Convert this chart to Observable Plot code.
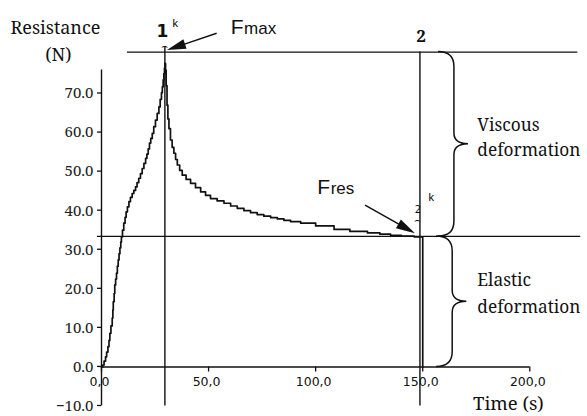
<!DOCTYPE html>
<html>
<head>
<meta charset="utf-8">
<script src="https://cdn.jsdelivr.net/npm/d3@7"></script>
<script src="https://cdn.jsdelivr.net/npm/@observablehq/plot@0.6"></script>
<style>
  html, body { margin: 0; padding: 0; background: white; }
</style>
</head>
<body>
<div id="chart"></div>
<script>
// ---- data ----
const time = [
  0, 0.6, 1.2, 1.9, 2.4, 3.0, 3.5, 3.9, 4.4, 5.0, 5.3, 5.5, 5.9, 6.2, 6.6, 7.0, 7.4, 7.8, 8.2, 8.6,
  9.0, 9.3, 9.8, 10.4, 11.0, 11.5, 12.1, 12.8, 13.5, 14.3, 15.1, 15.9, 16.6, 17.4, 18.2, 19.0, 19.8,
  20.6, 21.2, 21.8, 22.4, 23.0, 23.7, 24.4, 25.2, 26.0, 26.8, 27.4, 28.0, 28.4, 28.8, 29.1, 29.4, 29.6,
  29.9, 30.2, 30.6, 31.0, 31.5, 32.2, 33.0, 33.8, 34.6, 35.4, 36.5, 37.7, 39.5, 41.6, 43.9, 46.3, 48.6,
  50.9, 54.0, 57.2, 60.3, 63.4, 66.5, 69.6, 72.7, 75.8, 79.0, 82.1, 85.2, 88.3, 93.0, 100.0, 108.6,
  116.0, 124.2, 130.0, 135.0, 140.0, 146.0, 150.0, 150.0
];
const force = [
  0, 0.5, 1.5, 2.6, 3.8, 5.2, 6.8, 8.6, 10.5, 12.5, 14.6, 16.7, 18.8, 21.0, 22.5, 24.0, 25.8, 27.4, 29.0, 30.5,
  32.0, 33.3, 35.0, 36.8, 38.3, 39.7, 41.0, 42.3, 43.4, 44.4, 45.2, 46.1, 47.2, 48.3, 49.5, 50.8, 52.1,
  53.4, 54.5, 55.8, 57.3, 58.5, 59.8, 61.5, 63.2, 64.9, 66.6, 68.5, 70.2, 71.7, 73.5, 75.1, 76.5, 77.7,
  76.0, 72.0, 67.0, 63.5, 61.0, 58.1, 56.2, 54.7, 53.1, 51.7, 50.3, 49.1, 48.0, 47.0, 45.9, 44.8, 43.9,
  43.1, 42.5, 41.9, 41.2, 40.6, 40.0, 39.5, 39.0, 38.6, 38.2, 37.9, 37.5, 37.2, 36.8, 36.1, 35.2,
  34.7, 34.3, 34.0, 33.7, 33.5, 33.3, 33.3, 0
];
const xTicks = [0, 50, 100, 150, 200];
const xTickLabels = ["0,0", "50,0", "100,0", "150,0", "200,0"];
const yTicks = [-10, 0, 10, 20, 30, 40, 50, 60, 70];
const yTickLabels = ["\u221210.0", "0.0", "10.0", "20.0", "30.0", "40.0", "50.0", "60.0", "70.0"];

const Fmax = 80.6;   // upper horizontal line
const Fres = 33.4;   // lower horizontal line
const t1 = 29.6;     // vertical line 1
const t2 = 148.7;    // vertical line 2

const curveData = time.map((t, i) => ({t, f: force[i]}));

const serif = "'Noto Serif', 'Liberation Serif', serif";
const sans = "'Liberation Sans', Arial, sans-serif";
const dsans = "'DejaVu Sans', sans-serif";
const ink = "#111";

const chart = Plot.plot({
  width: 587,
  height: 416,
  marginLeft: 101,
  marginRight: 57.7,
  marginTop: 93,
  marginBottom: 10.5,
  x: {domain: [0, 200], axis: null},
  y: {domain: [-10, 70], axis: null},
  style: {background: "white", overflow: "visible", color: ink},
  marks: [
    // axis lines
    Plot.ruleX([0], {y1: -10, y2: 76, stroke: ink, strokeWidth: 1.4}),
    Plot.ruleY([0], {x1: 0, x2: 200, stroke: ink, strokeWidth: 1.4}),
    Plot.ruleX(xTicks, {x: d => d, y1: 0, y2: -1.3, stroke: ink, strokeWidth: 1.3}),
    Plot.text(xTicks, {
      x: d => d, y: -3.9, text: (d, i) => xTickLabels[i], dx: -2,
      fontFamily: dsans, fontSize: 12.5, lineAnchor: "middle", fill: ink
    }),
    // reference lines
    Plot.ruleY([Fmax], {x1: 12.1, x2: 222.4, stroke: ink, strokeWidth: 1.3}),
    Plot.ruleY([Fres], {x1: -1.9, x2: 223.8, stroke: ink, strokeWidth: 1.3}),
    Plot.ruleX([t1], {y1: -10, y2: 82, stroke: ink, strokeWidth: 1.4}),
    Plot.ruleX([t2], {y1: -10, y2: Fmax, stroke: ink, strokeWidth: 1.4}),
    // measured curve
    Plot.line(curveData, {x: "t", y: "f", curve: "step-after", stroke: ink, strokeWidth: 1.7}),
    // y tick labels
    Plot.text(yTicks, {
      x: 0, y: d => d, text: (d, i) => yTickLabels[i], dx: -8, textAnchor: "end",
      fontFamily: serif, fontSize: 15, lineAnchor: "middle", fill: "#222"
    }),
    // axis titles
    Plot.text(["Resistance"], {x: -21.5, y: 85.35, text: d => d, fontFamily: serif, fontSize: 18, lineAnchor: "bottom", fill: ink}),
    Plot.text(["(N)"], {x: -20.1, y: 78.4, text: d => d, fontFamily: serif, fontSize: 18, lineAnchor: "bottom", fill: ink}),
    Plot.text(["Time (s)"], {x: 190, y: -11, text: d => d, fontFamily: serif, fontSize: 18.5, lineAnchor: "bottom", fill: ink}),
    // brace labels
    Plot.text(["Viscous", "deformation"], {x: 175.5, y: [60.5, 53.9], text: d => d, textAnchor: "start", fontFamily: serif, fontSize: 17.3, lineAnchor: "bottom", fill: ink}),
    Plot.text(["Elastic", "deformation"], {x: 175.5, y: [20.6, 13.9], text: d => d, textAnchor: "start", fontFamily: serif, fontSize: 17.3, lineAnchor: "bottom", fill: ink}),
    // point labels
    Plot.text(["1"], {x: 28.5, y: 84.4, text: d => d, fontFamily: dsans, fontWeight: "bold", fontSize: 17, lineAnchor: "bottom", fill: ink}),
    Plot.text(["k"], {x: 33.2, y: 87, text: d => d, textAnchor: "start", fontFamily: sans, fontSize: 11, lineAnchor: "bottom", fill: "black"}),
    Plot.text(["\u2322"], {x: 29.4, y: 82, text: d => d, fontFamily: dsans, fontSize: 11, lineAnchor: "middle", fill: ink}),
    Plot.text(["2"], {x: 149.2, y: 83.2, text: d => d, fontFamily: serif, fontWeight: "bold", fontSize: 17, lineAnchor: "bottom", fill: ink}),
    Plot.text(["2"], {x: 147.8, y: 39.3, text: d => d, fontFamily: dsans, fontSize: 10, lineAnchor: "bottom", fill: ink}),
    Plot.text(["k"], {x: 152.7, y: 42.6, text: d => d, textAnchor: "start", fontFamily: sans, fontSize: 11, lineAnchor: "bottom", fill: "black"}),
    Plot.text(["\u2322"], {x: 147.6, y: 37.6, text: d => d, fontFamily: dsans, fontSize: 10, lineAnchor: "middle", fill: ink}),
    // F labels
    Plot.text(["F"], {x: 60.3, y: 85.3, text: d => d, textAnchor: "start", fontFamily: sans, fontSize: 21, lineAnchor: "bottom", fill: ink}),
    Plot.text(["max"], {x: 66.6, y: 85.3, text: d => d, textAnchor: "start", fontFamily: sans, fontSize: 17, lineAnchor: "bottom", fill: ink}),
    Plot.text(["F"], {x: 100.7, y: 44.3, text: d => d, textAnchor: "start", fontFamily: sans, fontSize: 21, lineAnchor: "bottom", fill: ink}),
    Plot.text(["res"], {x: 107.0, y: 44.3, text: d => d, textAnchor: "start", fontFamily: sans, fontSize: 17, lineAnchor: "bottom", fill: ink})
  ]
});

document.getElementById("chart").appendChild(chart);

// ---- annotations drawn with the plot's own scales ----
const sx = chart.scale("x").apply;
const sy = chart.scale("y").apply;
const svg = d3.select(chart);
const g = svg.append("g").attr("fill", "none").attr("stroke", ink).attr("stroke-width", 1.5);

// y-axis ticks (pointing left)
yTicks.forEach(v => {
  g.append("line").attr("x1", sx(0) - 4).attr("x2", sx(0)).attr("y1", sy(v)).attr("y2", sy(v)).attr("stroke-width", 1.3);
});

function brace(xL, xS, xTip, vTop, vBot) {
  const L = sx(xL), S = sx(xS), T = sx(xTip);
  const yT = sy(vTop), yB = sy(vBot), yM = (yT + yB) / 2;
  const r = 15, rm = 11;
  return `M${L},${yT} Q${S},${yT} ${S},${yT + r} L${S},${yM - rm} Q${S},${yM} ${T},${yM}` +
         ` Q${S},${yM} ${S},${yM + rm} L${S},${yB - r} Q${S},${yB} ${L},${yB}`;
}
g.append("path").attr("d", brace(157.4, 164.8, 171.4, Fmax, Fres));
g.append("path").attr("d", brace(156.5, 164.0, 170.6, Fres, 0));

function arrow(t0, v0, t1_, v1) {
  const x0 = sx(t0), y0 = sy(v0), x1 = sx(t1_), y1 = sy(v1);
  const dx = x1 - x0, dy = y1 - y0, len = Math.hypot(dx, dy);
  const ux = dx / len, uy = dy / len, L = 19, W = 5;
  const bx = x1 - ux * L, by = y1 - uy * L;
  g.append("line").attr("x1", x0).attr("y1", y0).attr("x2", bx + ux * 2).attr("y2", by + uy * 2);
  g.append("path")
    .attr("d", `M${x1},${y1} L${bx - uy * W},${by + ux * W} L${bx + uy * W},${by - ux * W} Z`)
    .attr("fill", ink).attr("stroke", "none");
}
arrow(54, 85.3, 30.8, 81.0);
arrow(123.3, 41.3, 146.6, 34.1);
</script>
</body>
</html>
